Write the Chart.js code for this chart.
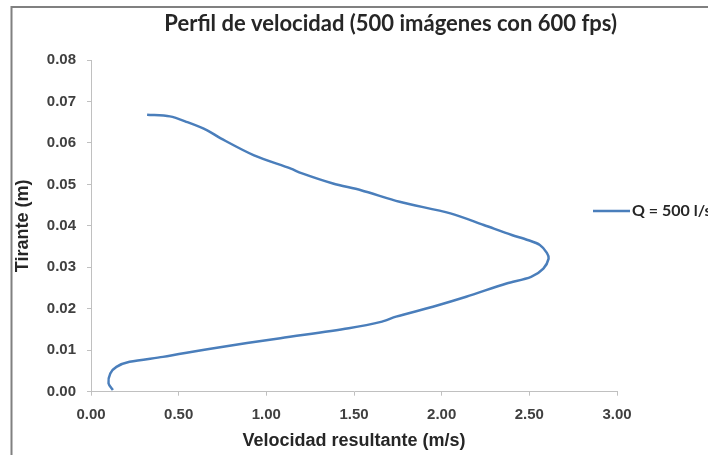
<!DOCTYPE html>
<html>
<head>
<meta charset="utf-8">
<script src="https://cdn.jsdelivr.net/npm/chart.js@4"></script>
<style>
html,body{margin:0;padding:0;background:#fff;overflow:hidden;}
#wrap{width:708px;height:455px;}
</style>
</head>
<body>
<div id="wrap"><canvas id="c" width="708" height="455"></canvas></div>
<script>
const chartTitle = 'Perfil de velocidad (500 imágenes con 600 fps)';
const seriesLabel = 'Q = 500 l/s';
const xTitle = 'Velocidad resultante (m/s)';
const yTitle = 'Tirante (m)';
const xTicks = [0, 0.5, 1, 1.5, 2, 2.5, 3];
const yTicks = [0, 0.01, 0.02, 0.03, 0.04, 0.05, 0.06, 0.07, 0.08];

const velocidad = [0.32, 0.45, 0.55, 0.66, 0.74, 0.93, 1.14, 1.20, 1.38, 1.54, 1.76, 2.05, 2.24, 2.40, 2.49, 2.56, 2.60, 2.61, 2.58, 2.51, 2.37, 2.14, 1.95, 1.74, 1.66, 1.47, 1.08, 0.70, 0.41, 0.22, 0.145, 0.11, 0.10, 0.125];
const tirante   = [0.0668, 0.0664, 0.0650, 0.0631, 0.0611, 0.0570, 0.0538, 0.0527, 0.0502, 0.0486, 0.0458, 0.0430, 0.0402, 0.0378, 0.0366, 0.0354, 0.0335, 0.0321, 0.0297, 0.0277, 0.0261, 0.0229, 0.0205, 0.0181, 0.0169, 0.0153, 0.0129, 0.0105, 0.0084, 0.0072, 0.0060, 0.0044, 0.0020, 0.0004];

const points = velocidad.map((v, i) => ({x: v, y: tirante[i]}));

const framePlugin = {
  id: 'frame',
  beforeDraw(chart) {
    const ctx = chart.ctx;
    ctx.save();
    ctx.fillStyle = '#ffffff';
    ctx.fillRect(0, 0, chart.width, chart.height);
    ctx.strokeStyle = '#808080';
    ctx.lineWidth = 2;
    ctx.strokeRect(11.5, 7, 800, 800);
    ctx.restore();
  }
};

const legendPlugin = {
  id: 'sideLegend',
  afterDraw(chart) {
    const ds = chart.data.datasets[0];
    const ctx = chart.ctx;
    ctx.save();
    ctx.strokeStyle = ds.borderColor;
    ctx.lineWidth = 2.5;
    ctx.beginPath();
    ctx.moveTo(593, 211);
    ctx.lineTo(630, 211);
    ctx.stroke();
    ctx.fillStyle = '#262626';
    ctx.font = 'bold 16px Lato';
    ctx.textBaseline = 'middle';
    ctx.textAlign = 'left';
    ctx.fillText(ds.label, 632, 211);
    ctx.restore();
  }
};

new Chart(document.getElementById('c'), {
  type: 'scatter',
  data: {
    datasets: [{
      label: seriesLabel,
      data: points,
      showLine: true,
      borderColor: '#4a7ebb',
      backgroundColor: '#4a7ebb',
      borderWidth: 2.5,
      pointRadius: 0,
      pointHoverRadius: 0,
      tension: 0.3
    }]
  },
  plugins: [framePlugin, legendPlugin],
  options: {
    responsive: false,
    animation: false,
    events: [],
    layout: { padding: { left: 12, right: 91, top: 8, bottom: 3 } },
    plugins: {
      legend: { display: false },
      tooltip: { enabled: false },
      title: {
        display: true,
        align: 'end',
        text: chartTitle,
        color: '#262626',
        font: { family: 'Lato', size: 22, weight: 'bold' },
        padding: { top: 3, bottom: 22.6 }
      }
    },
    scales: {
      x: {
        type: 'linear',
        min: 0, max: 3,
        afterBuildTicks(scale) { scale.ticks = xTicks.map(v => ({value: v})); },
        afterFit(scale) { scale.height = 60.3; },
        ticks: {
          callback: v => Number(v).toFixed(2),
          color: '#404040',
          font: { family: 'Liberation Sans', size: 15, weight: 'bold' },
          padding: 10,
          maxRotation: 0
        },
        grid: { drawOnChartArea: false, tickLength: 4, color: '#c0c0c0' },
        border: { color: '#c0c0c0', width: 1 },
        title: {
          display: true,
          text: xTitle,
          color: '#262626',
          font: { family: 'Liberation Sans', size: 18, weight: 'bold' },
          padding: 0
        }
      },
      y: {
        type: 'linear',
        min: 0, max: 0.08,
        afterBuildTicks(scale) { scale.ticks = yTicks.map(v => ({value: v})); },
        afterFit(scale) { scale.width = 79; },
        ticks: {
          callback: v => Number(v).toFixed(2),
          color: '#404040',
          font: { family: 'Liberation Sans', size: 15, weight: 'bold' },
          padding: 11
        },
        grid: { drawOnChartArea: false, tickLength: 4, color: '#c0c0c0' },
        border: { color: '#c0c0c0', width: 1 },
        title: {
          display: true,
          text: yTitle,
          color: '#262626',
          font: { family: 'Liberation Sans', size: 18, weight: 'bold' },
          padding: 0
        }
      }
    }
  }
});
</script>
</body>
</html>
